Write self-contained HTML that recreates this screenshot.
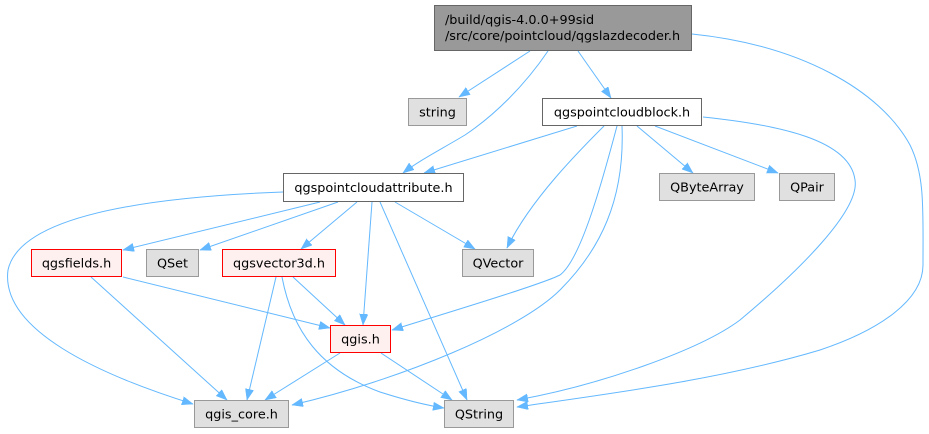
<!DOCTYPE html>
<html><head><meta charset="utf-8"><style>
html,body{margin:0;padding:0;background:#fff;}
svg{display:block;}
text{font-family:"DejaVu Sans","Liberation Sans",sans-serif;font-size:12.8px;fill:#000;}
.e{fill:none;stroke:#63b8ff;stroke-width:1;}
</style></head><body>
<svg width="929" height="434" viewBox="0 0 929 434" xmlns="http://www.w3.org/2000/svg">
<defs>
<marker id="a" markerUnits="userSpaceOnUse" markerWidth="13" markerHeight="10" refX="11" refY="4.2" orient="auto">
<path d="M0,0 L11,4.2 L0,8.4 z" fill="#63b8ff" stroke="#63b8ff" stroke-width="0.5"/>
</marker>
</defs>
<g marker-end="url(#a)">
<path class="e" d="M530,51 L459,97"/>
<path class="e" d="M548,51 C525,85 495,115 465,135 C440,150 420,160 403,173"/>
<path class="e" d="M578,51 L611,98"/>
<path class="e" d="M692,34 C800,45 880,90 910,145 C925,175 923,210 923,265 C923,300 880,330 820,350 C720,380 600,395 517,407"/>
<path class="e" d="M703,117 C780,125 850,140 855,180 C860,210 800,270 740,320 C700,350 600,385 517,400"/>
<path class="e" d="M577,126 L424,173"/>
<path class="e" d="M637,126 L693,173"/>
<path class="e" d="M655,126 L778,173"/>
<path class="e" d="M604,126 C580,150 530,200 507,248"/>
<path class="e" d="M617,126 C600,190 580,260 560,275 C540,285 440,315 392,330"/>
<path class="e" d="M622,126 C625,200 600,250 560,290 C520,330 400,380 292,405"/>
<path class="e" d="M283,192 C150,197 20,215 8,270 C0,330 100,375 193,404"/>
<path class="e" d="M320,202 L123,250"/>
<path class="e" d="M338,202 L200,250"/>
<path class="e" d="M357,202 L301,249"/>
<path class="e" d="M372,202 L363,325"/>
<path class="e" d="M380,202 L467,400"/>
<path class="e" d="M395,202 L475,249"/>
<path class="e" d="M91,277 L227,400"/>
<path class="e" d="M123,277 L330,328"/>
<path class="e" d="M276,277 L247,400"/>
<path class="e" d="M282,277 C292,330 320,370 380,392 C405,400 425,405 444,408"/>
<path class="e" d="M293,277 L345,325"/>
<path class="e" d="M340,353 L265,400"/>
<path class="e" d="M381,353 L452,400"/>
</g>
<!-- nodes -->
<rect x="434.5" y="5.5" width="257" height="45" fill="#999999" stroke="#666666"/>
<text x="445" y="24">/build/qgis-4.0.0+99sid</text>
<text x="445" y="40">/src/core/pointcloud/qgslazdecoder.h</text>

<rect x="408.5" y="98.5" width="58" height="27" fill="#e0e0e0" stroke="#999999"/>
<text x="437.5" y="116.5" text-anchor="middle">string</text>

<rect x="542.5" y="98.5" width="159" height="27" fill="#ffffff" stroke="#666666"/>
<text x="622" y="116.5" text-anchor="middle">qgspointcloudblock.h</text>

<rect x="283.5" y="173.5" width="180" height="28" fill="#ffffff" stroke="#666666"/>
<text x="373.5" y="192" text-anchor="middle">qgspointcloudattribute.h</text>

<rect x="659.5" y="173.5" width="95" height="27" fill="#e0e0e0" stroke="#999999"/>
<text x="707" y="191.5" text-anchor="middle">QByteArray</text>

<rect x="779.5" y="173.5" width="55" height="27" fill="#e0e0e0" stroke="#999999"/>
<text x="807" y="191.5" text-anchor="middle">QPair</text>

<rect x="31.5" y="249.5" width="90" height="27" fill="#fff0f0" stroke="#ff0000"/>
<text x="76.5" y="267.5" text-anchor="middle">qgsfields.h</text>

<rect x="146.5" y="249.5" width="52" height="27" fill="#e0e0e0" stroke="#999999"/>
<text x="172.5" y="267.5" text-anchor="middle">QSet</text>

<rect x="222.5" y="249.5" width="113" height="27" fill="#fff0f0" stroke="#ff0000"/>
<text x="279" y="267.5" text-anchor="middle">qgsvector3d.h</text>

<rect x="462.5" y="249.5" width="71" height="27" fill="#e0e0e0" stroke="#999999"/>
<text x="498" y="267.5" text-anchor="middle">QVector</text>

<rect x="330.5" y="325.5" width="60" height="27" fill="#fff0f0" stroke="#ff0000"/>
<text x="360.5" y="343.5" text-anchor="middle">qgis.h</text>

<rect x="194.5" y="400.5" width="94" height="27" fill="#e0e0e0" stroke="#999999"/>
<text x="241.5" y="418.5" text-anchor="middle">qgis_core.h</text>

<rect x="444.5" y="400.5" width="69" height="27" fill="#e0e0e0" stroke="#999999"/>
<text x="479" y="418.5" text-anchor="middle">QString</text>
</svg>
</body></html>
